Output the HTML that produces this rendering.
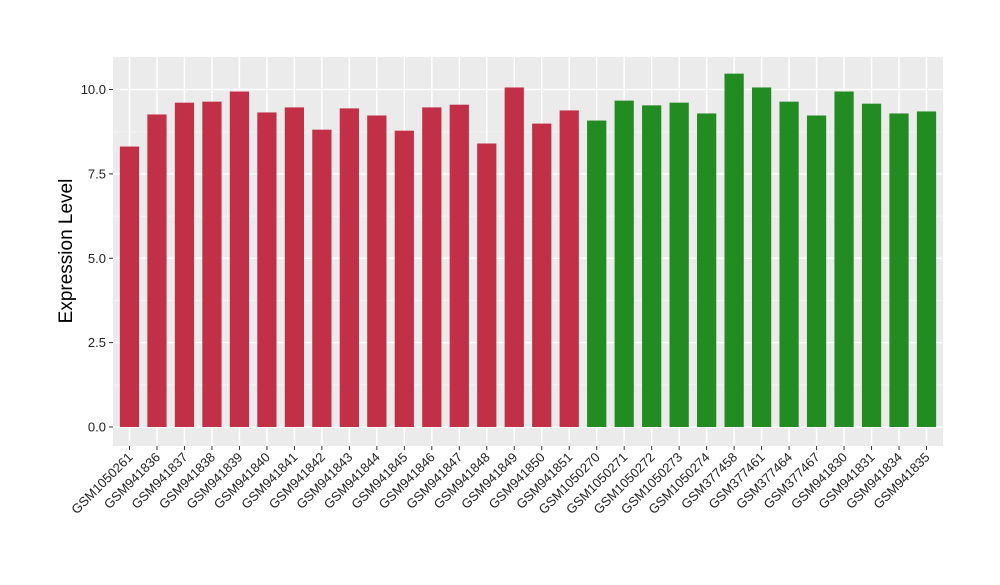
<!DOCTYPE html>
<html><head><meta charset="utf-8"><style>
body{margin:0;background:#fff;}
svg text{font-family:"Liberation Sans",sans-serif;}
</style></head><body>
<svg id="chart" width="1000" height="580" xmlns="http://www.w3.org/2000/svg">
<rect x="113" y="57" width="830" height="389" fill="#ebebeb"/>
<g id="grid"></g><g id="bars"></g><g id="yaxis"></g><g id="xaxis"></g>
<text x="72" y="251" font-size="19" text-anchor="middle" transform="rotate(-90 72 251)">Expression Level</text>
</svg>
<script>
const categories=["GSM1050261","GSM941836","GSM941837","GSM941838","GSM941839","GSM941840","GSM941841","GSM941842","GSM941843","GSM941844","GSM941845","GSM941846","GSM941847","GSM941848","GSM941849","GSM941850","GSM941851","GSM1050270","GSM1050271","GSM1050272","GSM1050273","GSM1050274","GSM377458","GSM377461","GSM377464","GSM377467","GSM941830","GSM941831","GSM941834","GSM941835"];
const values=[8.31,9.26,9.61,9.64,9.94,9.32,9.47,8.81,9.44,9.23,8.78,9.47,9.55,8.40,10.06,8.99,9.38,9.08,9.67,9.53,9.61,9.29,10.47,10.06,9.64,9.23,9.94,9.58,9.29,9.35];
const groups=["red","red","red","red","red","red","red","red","red","red","red","red","red","red","red","red","red","green","green","green","green","green","green","green","green","green","green","green","green","green"];
const yTicks=[0,2.5,5,7.5,10];
const yTickLabels=["0.0","2.5","5.0","7.5","10.0"];
const colors={red:"#c23047",green:"#228b22"};
const NS="http://www.w3.org/2000/svg";
const px0=113,px1=943,py0=57,py1=446;
const y=v=>427-v*33.75;
const step=(px1-px0)/(categories.length-1+1.2);
const x=i=>px0+(0.6+i)*step;
function mk(t,a,p){const e=document.createElementNS(NS,t);for(const k in a)e.setAttribute(k,a[k]);p.appendChild(e);return e;}
const grid=document.getElementById('grid'),bars=document.getElementById('bars'),ya=document.getElementById('yaxis'),xa=document.getElementById('xaxis');
for(let i=0;i<yTicks.length-1;i++){const m=(yTicks[i]+yTicks[i+1])/2;
const l=mk('line',{x1:px0,x2:px1,y1:y(m),y2:y(m),stroke:'#f5f5f5','stroke-width':1},grid);

}
yTicks.forEach((v,i)=>{
const g=mk('line',{x1:px0,x2:px1,y1:y(v),y2:y(v),stroke:'#fff','stroke-width':1.5},grid);


const t=mk('line',{x1:px0-4,x2:px0,y1:y(v),y2:y(v),stroke:'#333','stroke-width':1},ya);


const tx=mk('text',{x:px0-7,y:y(v)+4.5,'font-size':13,'text-anchor':'end',fill:'#222'},ya);
tx.textContent=yTickLabels[i];


});
categories.forEach((c,i)=>{
const g=mk('line',{x1:x(i),x2:x(i),y1:py0,y2:py1,stroke:'#fff','stroke-width':1.5},grid);


const w=step*0.7;
const r=mk('rect',{x:x(i)-w/2,y:y(values[i]),width:w,height:y(0)-y(values[i]),fill:colors[groups[i]]},bars);


const t=mk('line',{x1:x(i),x2:x(i),y1:py1,y2:py1+4,stroke:'#333','stroke-width':1},xa);


const tx=mk('text',{x:x(i)+4,y:py1+12,'font-size':13,'text-anchor':'end',fill:'#222',transform:`rotate(-45 ${x(i)+4} ${py1+12})`},xa);
tx.textContent=c;


});
</script>
</body></html>
